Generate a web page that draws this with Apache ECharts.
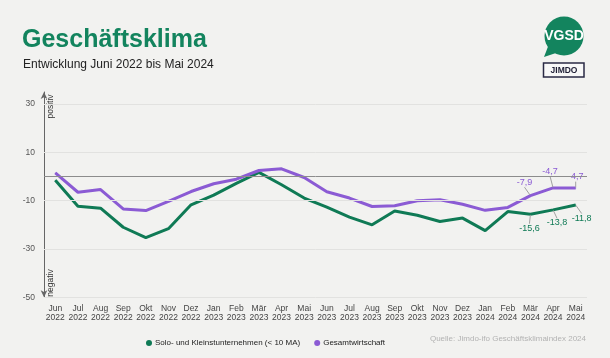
<!DOCTYPE html>
<html>
<head>
<meta charset="utf-8">
<script src="https://cdn.jsdelivr.net/npm/echarts@6/dist/echarts.min.js"></script>
<style>
html,body{margin:0;padding:0;background:#f2f2f0;}
#chart{width:610px;height:358px;}
</style>
</head>
<body>
<div id="chart"></div>
<script>
var months = ['Jun','Jul','Aug','Sep','Okt','Nov','Dez','Jan','Feb','Mär','Apr','Mai','Jun','Jul','Aug','Sep','Okt','Nov','Dez','Jan','Feb','Mär','Apr','Mai'];
var years = ['2022','2022','2022','2022','2022','2022','2022','2023','2023','2023','2023','2023','2023','2023','2023','2023','2023','2023','2023','2024','2024','2024','2024','2024'];
var soloValues = [-1.5, -12.3, -13.1, -21.0, -25.3, -21.6, -11.7, -7.7, -2.8, 1.7, -3.4, -8.9, -12.7, -16.8, -20.0, -14.3, -16.0, -18.6, -17.2, -22.4, -14.5, -15.6, -13.8, -11.8];
var gesamtValues = [1.5, -6.5, -5.4, -13.4, -14.1, -10.3, -6.2, -3.0, -1.1, 2.5, 3.2, -0.4, -6.3, -8.9, -12.4, -12.1, -10.0, -9.6, -11.5, -14.0, -12.8, -7.9, -4.7, -4.7];
var yTicks = [30, 10, -10, -30, -50];
var seriesNames = ['Solo- und Kleinstunternehmen (< 10 MA)', 'Gesamtwirtschaft'];
var labeledFrom = 21;

var GREEN = '#0f7a55';
var PURPLE = '#8b5bd4';
var BG = '#f2f2f0';
var FONT = "'Liberation Sans', Arial, sans-serif";
var categories = months.map(function(m, i){ return m + '\n' + years[i]; });
function fmt(v){ return String(v).replace('.', ','); }
function build(values){
  return values.map(function(v, i){
    return i >= labeledFrom ? {value: v, label: {show: true}, labelLine: {show: true}} : v;
  });
}

var chart = echarts.init(document.getElementById('chart'), null, {renderer: 'canvas'});
var greenOffsets = {21: [-1, 3], 22: [4, 2], 23: [6, 2]};
var purpleOffsets = {21: [-6, -3], 22: [-3, -6], 23: [0, -1]};

chart.setOption({
  backgroundColor: BG,
  animation: false,
  textStyle: {fontFamily: FONT},
  title: [
    {text: 'Geschäftsklima', left: 17, top: 23, textStyle: {fontFamily: FONT, fontWeight: 'bold', fontSize: 25, color: '#13845e'}},
    {text: 'Entwicklung Juni 2022 bis Mai 2024', left: 18, top: 54, textStyle: {fontFamily: FONT, fontWeight: 'normal', fontSize: 12, color: '#222'}}
  ],
  legend: {
    data: seriesNames,
    left: 141, top: 334,
    icon: 'circle', itemWidth: 6, itemHeight: 6, itemGap: 14,
    textStyle: {fontFamily: FONT, fontSize: 8, color: '#222', padding: [0,0,0,-2]}
  },
  grid: {left: 44, right: 23, top: 92, bottom: 60.7, containLabel: false},
  xAxis: {
    type: 'category', data: categories, boundaryGap: true,
    axisLine: {show: false}, axisTick: {show: false}, splitLine: {show: false},
    axisLabel: {interval: 0, fontFamily: FONT, fontSize: 8.5, lineHeight: 9, color: '#444', margin: 7}
  },
  yAxis: {
    type: 'value', min: -50, max: 35, interval: 20,
    axisLine: {show: true, onZero: false, symbol: ['arrow', 'arrow'], symbolSize: [5, 7], lineStyle: {color: '#666', width: 1}},
    axisTick: {show: false}, splitLine: {show: false},
    axisLabel: {showMaxLabel: false, fontFamily: FONT, fontSize: 8.5, color: '#555', margin: 9}
  },
  series: [
    {
      type: 'line', name: '_grid', data: [], z: 1, silent: true,
      markLine: {
        silent: true, symbol: ['none', 'none'], label: {show: false}, animation: false,
        data: yTicks.map(function(t){ return {yAxis: t, lineStyle: {color: '#e2e2e0', width: 1, type: 'solid'}}; })
          .concat([{yAxis: 0, lineStyle: {color: '#8c8c8c', width: 1, type: 'solid'}}])
      }
    },
    {
      type: 'line', name: seriesNames[0], data: build(soloValues), z: 3,
      symbol: 'circle', symbolSize: 1, showSymbol: true,
      lineStyle: {color: GREEN, width: 3}, itemStyle: {color: GREEN},
      label: {show: false, position: 'bottom', distance: 6, formatter: function(p){ return fmt(p.value); }, fontFamily: FONT, fontSize: 9, color: GREEN},
      labelLine: {show: true, lineStyle: {color: '#a0a0a0', width: 1}},
      labelLayout: function(p){ var o = greenOffsets[p.dataIndex] || [0,0]; return {dx: o[0], dy: o[1]}; }
    },
    {
      type: 'line', name: seriesNames[1], data: build(gesamtValues), z: 4,
      symbol: 'circle', symbolSize: 1, showSymbol: true,
      lineStyle: {color: PURPLE, width: 3}, itemStyle: {color: PURPLE},
      label: {show: false, position: 'top', distance: 5, formatter: function(p){ return fmt(p.value); }, fontFamily: FONT, fontSize: 9, color: PURPLE, backgroundColor: BG, padding: [0, 1]},
      labelLine: {show: true, lineStyle: {color: '#a0a0a0', width: 1}},
      labelLayout: function(p){ var o = purpleOffsets[p.dataIndex] || [0,0]; return {dx: o[0], dy: o[1]}; }
    }
  ],
  graphic: [
    {type: 'text', x: 50.5, y: 106.5, rotation: Math.PI/2, style: {text: 'positiv', font: "8.5px " + FONT, fill: '#333', align: 'center', verticalAlign: 'middle'}},
    {type: 'text', x: 50.5, y: 283, rotation: Math.PI/2, style: {text: 'negativ', font: "8.5px " + FONT, fill: '#333', align: 'center', verticalAlign: 'middle'}},
    {type: 'text', x: 586, y: 338.5, style: {text: 'Quelle: Jimdo-ifo Geschäftsklimaindex 2024', font: "8px " + FONT, fill: '#b3b3b3', align: 'right', verticalAlign: 'middle'}},
    {type: 'polygon', shape: {points: [[549, 44], [544, 57], [559, 52]]}, style: {fill: '#13845e'}},
    {type: 'circle', shape: {cx: 564, cy: 36, r: 19.5}, style: {fill: '#13845e'}},
    {type: 'text', x: 564, y: 36.5, style: {text: 'VGSD', font: "bold 14px " + FONT, fill: '#fff', align: 'center', verticalAlign: 'middle'}},
    {type: 'rect', shape: {x: 543.5, y: 63, width: 40.5, height: 14}, style: {fill: '#f8f8f8', stroke: '#2a2a44', lineWidth: 1.5}},
    {type: 'text', x: 564, y: 70.5, style: {text: 'JIMDO', font: "bold 8.5px " + FONT, fill: '#1e1e35', align: 'center', verticalAlign: 'middle'}}
  ]
});
</script>
</body>
</html>
